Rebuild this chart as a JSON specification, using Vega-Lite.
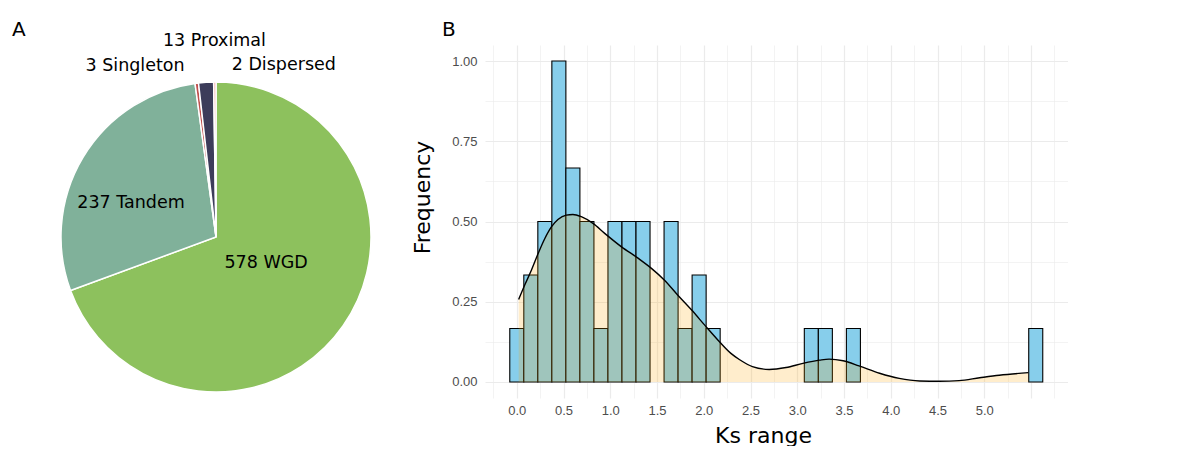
{
  "$schema": "https://vega.github.io/schema/vega-lite/v6.json",
  "autosize": {"type": "pad"},
  "padding": {"left": 0, "top": 20, "right": 0, "bottom": 0},
  "bounds": "flush",
  "spacing": 53,
  "config": {"view": {"stroke": null}, "font": "DejaVu Sans"},
  "datasets": {
    "pie": [
      {"type": "WGD", "count": 578, "order": 1, "label": "578 WGD"},
      {"type": "Tandem", "count": 237, "order": 2, "label": "237 Tandem"},
      {"type": "Singleton", "count": 3, "order": 3, "label": "3 Singleton"},
      {"type": "Proximal", "count": 13, "order": 4, "label": "13 Proximal"},
      {"type": "Dispersed", "count": 2, "order": 5, "label": "2 Dispersed"}
    ],
    "bars": [
      {"ks_start": -0.075, "ks_end": 0.075, "freq": 0.1667},
      {"ks_start": 0.075, "ks_end": 0.225, "freq": 0.3333},
      {"ks_start": 0.225, "ks_end": 0.375, "freq": 0.5},
      {"ks_start": 0.375, "ks_end": 0.525, "freq": 1.0},
      {"ks_start": 0.525, "ks_end": 0.675, "freq": 0.6667},
      {"ks_start": 0.675, "ks_end": 0.825, "freq": 0.5},
      {"ks_start": 0.825, "ks_end": 0.975, "freq": 0.1667},
      {"ks_start": 0.975, "ks_end": 1.125, "freq": 0.5},
      {"ks_start": 1.125, "ks_end": 1.275, "freq": 0.5},
      {"ks_start": 1.275, "ks_end": 1.425, "freq": 0.5},
      {"ks_start": 1.575, "ks_end": 1.725, "freq": 0.5},
      {"ks_start": 1.725, "ks_end": 1.875, "freq": 0.1667},
      {"ks_start": 1.875, "ks_end": 2.025, "freq": 0.3333},
      {"ks_start": 2.025, "ks_end": 2.175, "freq": 0.1667},
      {"ks_start": 3.075, "ks_end": 3.225, "freq": 0.1667},
      {"ks_start": 3.225, "ks_end": 3.375, "freq": 0.1667},
      {"ks_start": 3.525, "ks_end": 3.675, "freq": 0.1667},
      {"ks_start": 5.475, "ks_end": 5.625, "freq": 0.1667}
    ],
    "density": [
      {"ks": 0.02, "density": 0.257},
      {"ks": 0.085, "density": 0.302},
      {"ks": 0.157, "density": 0.349},
      {"ks": 0.228, "density": 0.4},
      {"ks": 0.3, "density": 0.447},
      {"ks": 0.37, "density": 0.483},
      {"ks": 0.44, "density": 0.506},
      {"ks": 0.53, "density": 0.52},
      {"ks": 0.6, "density": 0.522},
      {"ks": 0.69, "density": 0.515},
      {"ks": 0.815, "density": 0.494},
      {"ks": 0.94, "density": 0.463},
      {"ks": 1.12, "density": 0.421},
      {"ks": 1.3, "density": 0.385},
      {"ks": 1.44, "density": 0.354},
      {"ks": 1.58, "density": 0.317},
      {"ks": 1.72, "density": 0.271},
      {"ks": 1.87, "density": 0.224},
      {"ks": 2.01, "density": 0.177},
      {"ks": 2.15, "density": 0.131},
      {"ks": 2.29, "density": 0.089},
      {"ks": 2.38, "density": 0.07},
      {"ks": 2.52, "density": 0.048},
      {"ks": 2.7, "density": 0.039},
      {"ks": 2.88, "density": 0.045},
      {"ks": 3.06, "density": 0.058},
      {"ks": 3.24, "density": 0.068},
      {"ks": 3.34, "density": 0.071},
      {"ks": 3.49, "density": 0.066},
      {"ks": 3.66, "density": 0.05},
      {"ks": 3.88, "density": 0.027},
      {"ks": 4.09, "density": 0.011},
      {"ks": 4.31, "density": 0.003},
      {"ks": 4.52, "density": 0.002},
      {"ks": 4.73, "density": 0.004},
      {"ks": 4.95, "density": 0.013},
      {"ks": 5.16, "density": 0.021},
      {"ks": 5.47, "density": 0.029}
    ]
  },
  "hconcat": [
    {
      "width": 432,
      "height": 384,
      "title": {"text": "A", "anchor": "start", "frame": "group", "dx": 12, "offset": -24, "baseline": "alphabetic", "fontSize": 20, "fontWeight": "normal", "font": "DejaVu Sans", "color": "black"},
      "data": {"name": "pie"},
      "encoding": {
        "theta": {"field": "count", "type": "quantitative", "stack": true},
        "order": {"field": "order", "type": "quantitative"}
      },
      "layer": [
        {
          "mark": {"type": "arc", "outerRadius": 155, "stroke": "white", "strokeWidth": 1.5},
          "encoding": {
            "color": {
              "field": "type",
              "type": "nominal",
              "scale": {
                "domain": ["WGD", "Tandem", "Singleton", "Proximal", "Dispersed"],
                "range": ["#8DC15D", "#80B19A", "#C0504D", "#3C3C5A", "#F4A6A0"]
              },
              "legend": null
            }
          }
        },
        {
          "mark": {"type": "text", "radius": 55, "dx": 5, "dy": -5, "fontSize": 17.5, "font": "DejaVu Sans", "color": "black", "align": "center", "baseline": "middle"},
          "encoding": {"text": {"condition": {"test": "datum.type === 'WGD'", "field": "label"}, "value": ""}}
        },
        {
          "mark": {"type": "text", "radius": 91, "dx": -7, "dy": 13, "fontSize": 17.5, "font": "DejaVu Sans", "color": "black", "align": "center", "baseline": "middle"},
          "encoding": {"text": {"condition": {"test": "datum.type === 'Tandem'", "field": "label"}, "value": ""}}
        },
        {
          "mark": {"type": "text", "radius": 196, "dx": 11, "dy": 0, "fontSize": 17.5, "font": "DejaVu Sans", "color": "black", "align": "center", "baseline": "middle"},
          "encoding": {"text": {"condition": {"test": "datum.type === 'Proximal'", "field": "label"}, "value": ""}}
        },
        {
          "mark": {"type": "text", "radius": 172, "dx": -10, "dy": 0, "fontSize": 17.5, "font": "DejaVu Sans", "color": "black", "align": "right", "baseline": "middle"},
          "encoding": {"text": {"condition": {"test": "datum.type === 'Singleton'", "field": "label"}, "value": ""}}
        },
        {
          "mark": {"type": "text", "radius": 172, "dx": 17, "dy": 0, "fontSize": 17.5, "font": "DejaVu Sans", "color": "black", "align": "left", "baseline": "middle"},
          "encoding": {"text": {"condition": {"test": "datum.type === 'Dispersed'", "field": "label"}, "value": ""}}
        }
      ]
    },
    {
      "width": 583,
      "height": 353,
      "title": {"text": "B", "anchor": "start", "frame": "group", "dx": -43, "offset": -11, "baseline": "alphabetic", "fontSize": 20, "fontWeight": "normal", "font": "DejaVu Sans", "color": "black"},
      "resolve": {"axis": {"x": "independent"}},
      "layer": [
        {
          "data": {"name": "bars"},
          "mark": {"type": "rect", "fill": "#87CEEB", "stroke": "black", "strokeWidth": 1.1},
          "encoding": {
            "x": {
              "field": "ks_start",
              "type": "quantitative",
              "scale": {"domain": [-0.34, 5.895], "nice": false, "zero": false},
              "axis": {
                "orient": "bottom",
                "title": "Ks range",
                "values": [0, 0.5, 1, 1.5, 2, 2.5, 3, 3.5, 4, 4.5, 5, 5.5],
                "labelExpr": "datum.value < 5.2 ? format(datum.value, '.1f') : ''",
                "grid": true,
                "gridColor": "#EBEBEB",
                "gridWidth": 1.2,
                "ticks": false,
                "tickSize": 0,
                "domain": false,
                "labelFont": "Liberation Sans",
                "labelFontSize": 13,
                "labelColor": "#4D4D4D",
                "labelPadding": 6,
                "labelFlush": false,
                "labelOverlap": false,
                "titleFont": "DejaVu Sans",
                "titleFontSize": 22,
                "titleFontWeight": "normal",
                "titleColor": "black",
                "titlePadding": 8,
                "titleX": 278
              }
            },
            "x2": {"field": "ks_end"},
            "y": {
              "field": "freq",
              "type": "quantitative",
              "scale": {"domain": [-0.05, 1.05], "nice": false, "zero": false},
              "axis": {
                "title": "Frequency",
                "values": [0, 0.125, 0.25, 0.375, 0.5, 0.625, 0.75, 0.875, 1],
                "labelExpr": "abs(datum.value*4 - round(datum.value*4)) < 0.001 ? format(datum.value, '.2f') : ''",
                "grid": true,
                "gridColor": "#EBEBEB",
                "gridWidth": {"condition": {"test": "abs(datum.value*4 - round(datum.value*4)) < 0.001", "value": 1.2}, "value": 0.6},
                "ticks": false,
                "tickSize": 0,
                "domain": false,
                "labelFont": "Liberation Sans",
                "labelFontSize": 13,
                "labelColor": "#4D4D4D",
                "labelPadding": 8,
                "labelFlush": false,
                "labelOverlap": false,
                "titleFont": "DejaVu Sans",
                "titleFontSize": 22,
                "titleFontWeight": "normal",
                "titleColor": "black",
                "titlePadding": 17,
                "titleY": 152
              }
            },
            "y2": {"datum": 0}
          }
        },
        {
          "data": {"name": "density"},
          "mark": {"type": "area", "fill": "#FFA500", "fillOpacity": 0.2, "interpolate": "monotone"},
          "encoding": {
            "x": {
              "field": "ks",
              "type": "quantitative",
              "axis": {
                "orient": "top",
                "title": null,
                "values": [-0.25, 0.25, 0.75, 1.25, 1.75, 2.25, 2.75, 3.25, 3.75, 4.25, 4.75, 5.25, 5.75],
                "labels": false,
                "ticks": false,
                "domain": false,
                "grid": true,
                "gridColor": "#EBEBEB",
                "gridWidth": 0.6
              }
            },
            "y": {"field": "density", "type": "quantitative"},
            "y2": {"datum": 0}
          }
        },
        {
          "data": {"name": "density"},
          "mark": {"type": "line", "color": "black", "strokeWidth": 1.4, "interpolate": "monotone"},
          "encoding": {
            "x": {"field": "ks", "type": "quantitative", "axis": null},
            "y": {"field": "density", "type": "quantitative"}
          }
        }
      ]
    }
  ]
}
